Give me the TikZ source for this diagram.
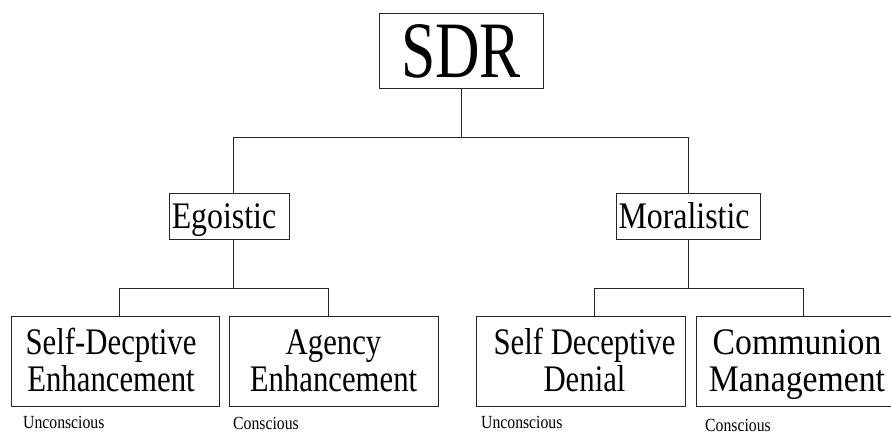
\documentclass[tikz,border=0pt]{standalone}
\usepackage{fontspec}
\setmainfont{Liberation Serif}
\newfontfamily\cfont[FakeStretch=0.85]{Liberation Serif}
\newfontfamily\lfont[FakeStretch=0.82]{Liberation Serif}
\newfontfamily\wfont[FakeStretch=0.9]{Liberation Serif}
\newfontfamily\sdrfont[FakeStretch=0.77]{Liberation Serif}
\usetikzlibrary{calc}
\begin{document}
\begin{tikzpicture}[x=1pt,y=-1pt,
 box/.style={draw=black!85, line width=0.9pt, inner sep=0pt, align=center, text=black},
 midbox/.style={box, minimum width=#1, minimum height=46pt, font=\cfont\fontsize{37.5}{37.5}\selectfont, text height=24.8pt, text depth=0pt},
 lowbox/.style={box, minimum width=#1, minimum height=90pt, font=\lfont\fontsize{37.5}{37}\selectfont, text height=61.8pt, text depth=0pt},
 conn/.style={draw=black!85, line width=0.9pt},
 lbl/.style={anchor=base west, inner sep=0pt, font=\cfont\fontsize{18.5}{20}\selectfont}]
\useasboundingbox (0,0) rectangle (891,434);
\clip (0,0) rectangle (891,434);
\fill[white] (0,0) rectangle (891,434);
% nodes
\node[box, minimum width=164pt, minimum height=75pt, font=\sdrfont\fontsize{80}{80}\selectfont, text height=53pt, text depth=0pt] (sdr) at (461,50.5) {SDR};
\node[midbox=120pt] (ego) at (229,216) {Egoistic\hspace*{10pt}};
\node[midbox=144pt] (mor) at (688,216) {Moralistic\hspace*{8pt}};
\node[lowbox=208pt] (b1) at (115,361) {Self-Decptive\hspace*{8pt}\\Enhancement\hspace*{8pt}};
\node[lowbox=209pt] (b2) at (333.5,361) {Agency\\Enhancement};
\node[lowbox=209pt] (b3) at (580.5,361) {\hspace*{8pt}Self Deceptive\\\hspace*{8pt}Denial};
\node[lowbox=202pt, font=\wfont\fontsize{37.5}{37}\selectfont] (b4) at (797,361) {Communion\\Management};
% labels
\node[lbl] (l1) at (23,428) {Unconscious};
\node[lbl] (l2) at (233,429) {Conscious};
\node[lbl] (l3) at (481,428) {Unconscious};
\node[lbl] (l4) at (705,431.5) {Conscious};
% connectors
\draw[conn] (sdr.south) -- ++(0,49) coordinate (t1);
\draw[conn] ([xshift=4pt]ego.north) |- (t1) -| (mor.north);
\draw[conn] ([xshift=4pt]ego.south) -- ++(0,49) coordinate (t2);
\draw[conn] ([xshift=4pt]b1.north) |- (t2) -| ([xshift=-5.5pt]b2.north);
\draw[conn] (mor.south) -- ++(0,49) coordinate (t3);
\draw[conn] ([xshift=13.5pt]b3.north) |- (t3) -| ([xshift=6pt]b4.north);
\end{tikzpicture}
\end{document}
